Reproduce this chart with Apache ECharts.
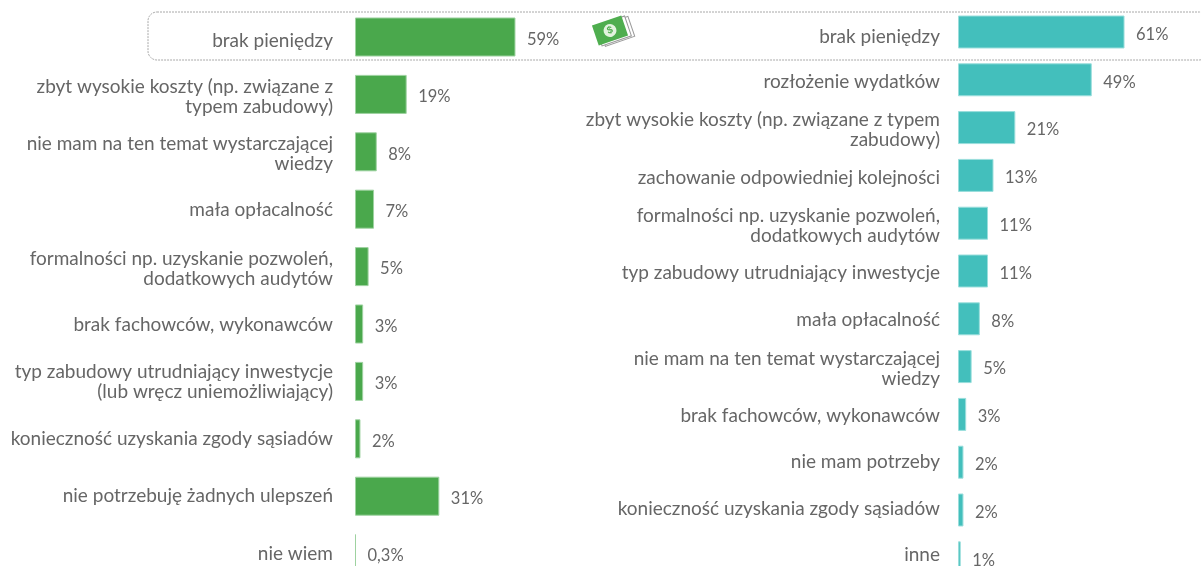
<!DOCTYPE html>
<html><head><meta charset="utf-8">
<script src="https://cdn.jsdelivr.net/npm/echarts@6/dist/echarts.min.js"></script>
<style>html,body{margin:0;padding:0;background:#fff}#c{width:1201px;height:566px}</style>
</head><body><div id="c"></div>
<script>
const leftCategories = ['brak pieniędzy','zbyt wysokie koszty (np. związane z\ntypem zabudowy)','nie mam na ten temat wystarczającej\nwiedzy','mała opłacalność','formalności np. uzyskanie pozwoleń,\ndodatkowych audytów','brak fachowców, wykonawców','typ zabudowy utrudniający inwestycje\n(lub wręcz uniemożliwiający)','konieczność uzyskania zgody sąsiadów','nie potrzebuję żadnych ulepszeń','nie wiem'];
const leftValues = [59,19,8,7,5,3,3,2,31,0.3];
const leftLabelShift = [4,2,2,1,2,1,0,0,0,0];
const rightCategories = ['brak pieniędzy','rozłożenie wydatków','zbyt wysokie koszty (np. związane z typem\nzabudowy)','zachowanie odpowiedniej kolejności','formalności np. uzyskanie pozwoleń,\ndodatkowych audytów','typ zabudowy utrudniający inwestycje','mała opłacalność','nie mam na ten temat wystarczającej\nwiedzy','brak fachowców, wykonawców','nie mam potrzeby','konieczność uzyskania zgody sąsiadów','inne'];
const rightValues = [61,49,21,13,11,11,8,5,3,2,2,1];
const rightLabelShift = [5,2,2,2,3,2,1,2,1,0,-1,-3];
const FONT='"Lato"', GREY='#666666';
const base={fontFamily:FONT,fontSize:19,lineHeight:20,color:GREY};
const rich={n:base};
[1,2,3,4,5].forEach(k=>{
  rich['d'+k]=Object.assign({},base,{lineHeight:20+2*k,padding:[k*2,0,0,0]});
  rich['u'+k]=Object.assign({},base,{lineHeight:20+2*k,padding:[0,0,k*2,0]});
});
function labelFor(names,shift){return function(v,i){
  const lines=v.split('\n'),s=shift[i];
  return lines.map((l,j)=>{
    let st='n';
    if(s>0&&j===0)st='d'+s;
    if(s<0&&j===lines.length-1)st='u'+(-s);
    return '{'+st+'|'+l+'}';
  }).join('\n');
};}
function fmt(p){return String(p.value).replace('.',',')+'%';}
function series(vals,color,edge,idx,gap){return {type:'bar',xAxisIndex:idx,yAxisIndex:idx,data:vals,barCategoryGap:gap,barMinHeight:1,
  itemStyle:{color:color,borderColor:edge,borderWidth:1},label:{show:true,position:'right',distance:11.5,offset:[0,2.4],formatter:fmt,color:GREY,fontFamily:FONT,fontSize:16.5},silent:true};}
function yAxis(idx,names,shift,margin){return {gridIndex:idx,type:'category',inverse:true,data:names,axisLine:{show:false},axisTick:{show:false},
  axisLabel:{margin:margin,align:'right',interval:0,formatter:labelFor(names,shift),rich:rich}};}
function xAxis(idx){return {gridIndex:idx,type:'value',min:0,max:100,show:false};}
const chart=echarts.init(document.getElementById('c'),null,{renderer:'canvas'});
chart.setOption({animation:false,backgroundColor:'#fff',
 grid:[{outerBoundsMode:'none',left:355,top:8.3,width:272,height:574},{outerBoundsMode:'none',left:958,top:8.1,width:273,height:573.6}],
 xAxis:[xAxis(0),xAxis(1)],yAxis:[yAxis(0,leftCategories,leftLabelShift,22),yAxis(1,rightCategories,rightLabelShift,18)],
 series:[series(leftValues,'#4aa84c','#9ed2a0',0,'32%'),series(rightValues,'#43bfbc','#9adedc',1,'31%')],
 graphic:[
  {type:'rect',z:0,shape:{x:148,y:12,width:1060,height:48,r:9},style:{fill:'none',stroke:'#a8a8a8',lineWidth:1,lineDash:[2,1]}},
  {type:'group',x:610,y:30.5,rotation:0.33,children:[
    {type:'rect',shape:{x:-9.5,y:-7.5,width:31,height:21},style:{fill:'#fff',stroke:'#9a9a9a',lineWidth:1}},
    {type:'rect',shape:{x:-12.5,y:-9,width:31,height:21},style:{fill:'#fff',stroke:'#9a9a9a',lineWidth:1}},
    {type:'rect',shape:{x:-15.5,y:-10.5,width:31,height:21},style:{fill:'#4fae4f'}},
    {type:'circle',shape:{cx:0,cy:0,r:6.5},style:{fill:'#e3f3df'}},
    {type:'text',style:{x:0,y:0,text:'$',fill:'#4fae4f',font:'bold 10px "Liberation Sans"',align:'center',verticalAlign:'middle'}}
  ]}
 ]});
</script></body></html>
